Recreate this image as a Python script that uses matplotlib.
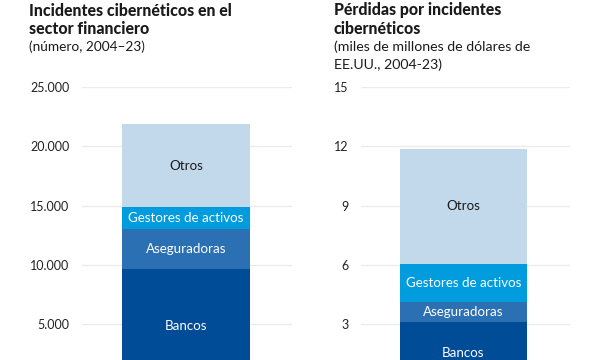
import matplotlib
matplotlib.use("Agg")
import matplotlib.pyplot as plt

plt.rcParams['font.family'] = ['Lato', 'DejaVu Sans']

segments = ["Bancos", "Aseguradoras", "Gestores de activos", "Otros"]
colors = ["#004C97", "#2B70B2", "#009CDE", "#C2D9EC"]
text_colors = ["white", "white", "white", "#1a1a1a"]

incidents = [9700, 3300, 1850, 7030]
losses = [3.13, 1.00, 1.93, 5.81]

left_ticks = [5000, 10000, 15000, 20000, 25000]
left_ticklabels = ["5.000", "10.000", "15.000", "20.000", "25.000"]
right_ticks = [3, 6, 9, 12, 15]
right_ticklabels = ["3", "6", "9", "12", "15"]

fig = plt.figure(figsize=(6, 3.6), dpi=100)
W, H = 600, 360

def make_ax(x0, x1, ymax):
    y0px, y1px = 383.6, 87
    ax = fig.add_axes([x0 / W, (H - y0px) / H, (x1 - x0) / W, (y0px - y1px) / H])
    ax.set_xlim(0, 1)
    ax.set_ylim(0, ymax)
    for s in ax.spines.values():
        s.set_visible(False)
    ax.set_xticks([])
    ax.tick_params(axis='y', length=0, pad=9, labelsize=9, labelcolor="#222222")
    ax.grid(axis='y', color="#EBEBEB", linewidth=1)
    ax.set_axisbelow(True)
    return ax

def draw(ax, vals, center, width):
    bottom = 0
    for v, c, tc, name in zip(vals, colors, text_colors, segments):
        ax.bar(center, v, width=width, bottom=bottom, color=c, linewidth=0, zorder=2)
        ax.text(center, bottom + v / 2, name, ha='center', va='center',
                color=tc, fontsize=9.6, zorder=3)
        bottom += v

ax1 = make_ax(82, 292, 25000)
ax1.set_yticks(left_ticks)
ax1.set_yticklabels(left_ticklabels)
draw(ax1, incidents, 0.495, 0.61)

ax2 = make_ax(361, 570, 15)
ax2.set_yticks(right_ticks)
ax2.set_yticklabels(right_ticklabels)
draw(ax2, losses, 0.49, 0.608)

def line(x, y, s, bold=False, size=10.2):
    fig.text(x / W, 1 - y / H, s, fontsize=11.4 if bold else size,
             fontweight=900 if bold else 'normal', color="#1a1a1a", va='baseline')

line(29, 15.5, "Incidentes cibernéticos en el", True)
line(29, 33.5, "sector financiero", True)
line(29, 51, "(número, 2004–23)", size=9.8)

line(334, 15.5, "Pérdidas por incidentes", True)
line(334, 33.5, "cibernéticos", True)
line(334, 51, "(miles de millones de dólares de")
line(334, 69, "EE.UU., 2004-23)")

fig.savefig("out.png", dpi=100)
